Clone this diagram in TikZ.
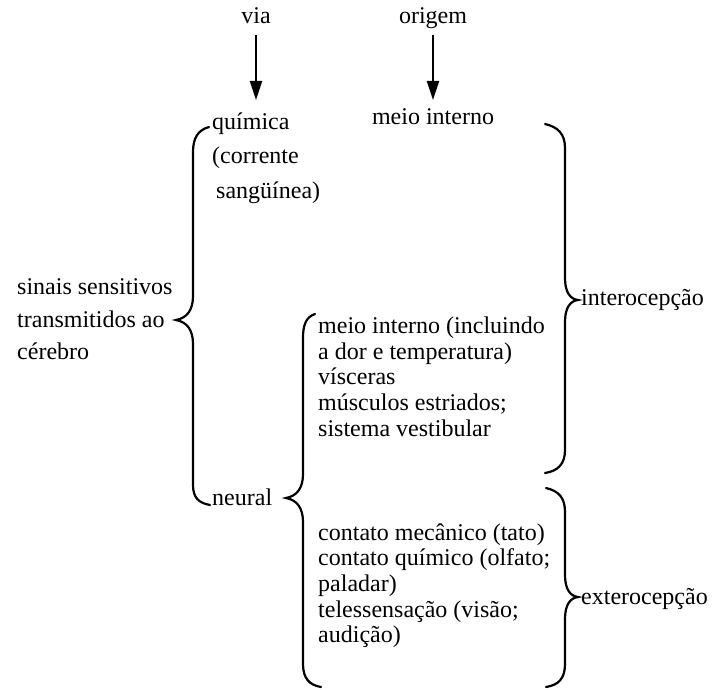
\documentclass[tikz,border=0pt]{standalone}
\usepackage{fontspec}
\setmainfont{Liberation Serif}
\usetikzlibrary{arrows.meta}
\begin{document}
\begin{tikzpicture}[x=1pt,y=-1pt,
  txt/.style={inner sep=0pt, anchor=base west, font=\fontsize{24}{25}\selectfont},
  ctxt/.style={txt, anchor=base},
  brace/.style={line width=2.2pt, line cap=round},
  arr/.style={line width=2pt, -{Triangle[length=19pt,width=12pt]}}]
\useasboundingbox (0,0) rectangle (712,690);

% column heads and arrows
\node[ctxt] (via) at (256,24) {via};
\node[ctxt] (origem) at (433,24) {origem};
\coordinate (viaend) at (256,100);
\coordinate (origemend) at (433,100);
\draw[arr, shorten <=11pt] (via) -- (viaend);
\draw[arr, shorten <=6pt] (origem) -- (origemend);

\node[ctxt] (meio) at (433,125) {meio interno};

% via: quimica
\node[txt] (quim1) at (212,130) {química};
\node[txt] (quim2) at (212,164) {(corrente};
\node[txt] (quim3) at (216,198) {sangüínea)};

% left label
\node[txt] (sin1) at (17,294) {sinais sensitivos};
\node[txt] (sin2) at (17,327) {transmitidos ao};
\node[txt] (sin3) at (17,359) {cérebro};

\node[txt] (neural) at (212,505) {neural};

% interoception list
\node[txt] (a1) at (318,333) {meio interno (incluindo};
\node[txt] (a2) at (318,359) {a dor e temperatura)};
\node[txt] (a3) at (318,384) {vísceras};
\node[txt] (a4) at (318,410) {músculos estriados;};
\node[txt] (a5) at (318,436) {sistema vestibular};

% exteroception list
\node[txt] (b1) at (318,540) {contato mecânico (tato)};
\node[txt] (b2) at (318,565) {contato químico (olfato;};
\node[txt] (b3) at (318,591) {paladar)};
\node[txt] (b4) at (318,617) {telessensação (visão;};
\node[txt] (b5) at (318,642) {audição)};

\node[txt] (intero) at (581,305) {interocepção};
\node[txt] (extero) at (581,604) {exterocepção};

% big left brace
\draw[brace] (209,127) .. controls (198,130) and (193,138) .. (193,152)
  -- (193,296) .. controls (193,310) and (187,318) .. (176,320)
  .. controls (187,322) and (193,330) .. (193,344)
  -- (193,485) .. controls (193,498) and (199,503) .. (210,505);

% neural brace
\draw[brace] (315,314) .. controls (306,317) and (303,325) .. (303,338)
  -- (303,474) .. controls (303,488) and (297,496) .. (286,498)
  .. controls (297,500) and (303,508) .. (303,522)
  -- (303,664) .. controls (303,678) and (309,685) .. (321,687);

% interocepcao brace
\draw[brace] (545,124) .. controls (558,127) and (565,134) .. (565,148)
  -- (565,278) .. controls (565,292) and (570,299) .. (578,300)
  .. controls (570,301) and (565,308) .. (565,322)
  -- (565,450) .. controls (565,464) and (558,471) .. (545,473);

% exterocepcao brace
\draw[brace] (546,488) .. controls (559,491) and (565,498) .. (565,512)
  -- (565,575) .. controls (565,589) and (570,596) .. (578,597)
  .. controls (570,598) and (565,605) .. (565,619)
  -- (565,664) .. controls (565,678) and (559,685) .. (546,687);
\end{tikzpicture}
\end{document}
